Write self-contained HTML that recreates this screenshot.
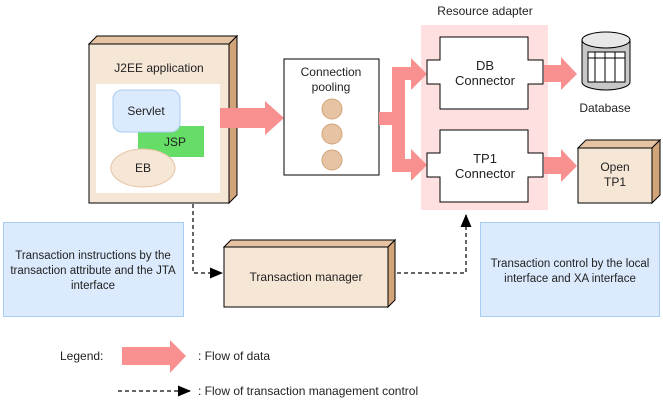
<!DOCTYPE html>
<html><head><meta charset="utf-8"><style>
html,body{margin:0;padding:0;background:#fff;}
svg{display:block;font-family:"Liberation Sans",Arial,sans-serif;}
</style></head><body>
<svg width="663" height="403" viewBox="0 0 663 403" xmlns="http://www.w3.org/2000/svg">
<defs>
<marker id="ah" markerWidth="13" markerHeight="11" refX="12" refY="5.5" orient="auto" markerUnits="userSpaceOnUse"><path d="M0,0 L13,5.5 L0,11 Z" fill="#000"/></marker>
</defs>
<polygon points="89,44 97,36 237,36 229,44" fill="#e6c3a3" stroke="#000"/>
<polygon points="229,44 237,36 237,195 229,203" fill="#d2a47a" stroke="#000"/>
<rect x="89" y="44" width="140" height="159" fill="#f5e6d6" stroke="#000"/>
<text x="159" y="72" font-size="12" text-anchor="middle" fill="#222">J2EE application</text>
<rect x="96" y="84" width="124" height="109" fill="#fff"/>
<rect x="138" y="126" width="66" height="31" fill="#66dd66"/>
<rect x="113" y="90" width="67" height="42" rx="9" fill="#dbeafc" stroke="#a9cdf2"/>
<text x="146" y="115" font-size="12" text-anchor="middle" fill="#222">Servlet</text>
<text x="175" y="146" font-size="12" text-anchor="middle" fill="#222">JSP</text>
<ellipse cx="143" cy="168" rx="32" ry="19" fill="#f5e6d6" stroke="#e6c3a3"/>
<text x="143" y="172" font-size="12" text-anchor="middle" fill="#222">EB</text>
<polygon points="220,108 265,108 265,101 284,118 265,135 265,128 220,128" fill="#f89090"/>
<rect x="284" y="59" width="95" height="116" fill="#fff" stroke="#000"/>
<text x="331" y="76" font-size="12" text-anchor="middle" fill="#222">Connection</text>
<text x="331" y="91" font-size="12" text-anchor="middle" fill="#222">pooling</text>
<circle cx="332" cy="109" r="10" fill="#e6c3a3" stroke="#d2a47a"/>
<circle cx="332" cy="134" r="10" fill="#e6c3a3" stroke="#d2a47a"/>
<circle cx="332" cy="160" r="10" fill="#e6c3a3" stroke="#d2a47a"/>
<rect x="421" y="25" width="127" height="185" fill="#ffe0e0"/>
<text x="485" y="15" font-size="12" text-anchor="middle" fill="#222">Resource adapter</text>
<polygon points="379,112 392,112 392,67 411,67 411,58 427,74 411,90 411,80 405,80 405,159 411,159 411,149 427,165 411,181 411,172 392,172 392,125 379,125" fill="#f89090"/>
<path d="M440,37 L528,37 L528,60 L543,60 L543,84 L528,84 L528,109 L440,109 L440,84 L427,84 L427,60 L440,60 Z" fill="#fff" stroke="#000"/>
<text x="485" y="70" font-size="13" text-anchor="middle" fill="#222">DB</text>
<text x="485" y="85" font-size="13" text-anchor="middle" fill="#222">Connector</text>
<path d="M440,130 L528,130 L528,153 L543,153 L543,177 L528,177 L528,202 L440,202 L440,177 L427,177 L427,153 L440,153 Z" fill="#fff" stroke="#000"/>
<text x="485" y="163" font-size="13" text-anchor="middle" fill="#222">TP1</text>
<text x="485" y="178" font-size="13" text-anchor="middle" fill="#222">Connector</text>
<polygon points="544,65 561,65 561,57 577,74 561,90 561,82 544,82" fill="#f89090"/>
<polygon points="544,157 561,157 561,149 577,166 561,182 561,174 544,174" fill="#f89090"/>
<path d="M582,40 L582,82 A24,8 0 0 0 630,82 L630,40" fill="#c8c8c8" stroke="#000"/>
<ellipse cx="606" cy="40" rx="24" ry="8" fill="#e8e8e8" stroke="#000"/>
<rect x="588" y="52" width="37" height="30" fill="#fff" stroke="#000"/>
<line x1="588" y1="58" x2="625" y2="58" stroke="#000"/>
<line x1="595" y1="52" x2="595" y2="82" stroke="#000"/>
<line x1="605" y1="52" x2="605" y2="82" stroke="#000"/>
<line x1="615" y1="52" x2="615" y2="82" stroke="#000"/>
<text x="605" y="112" font-size="12" text-anchor="middle" fill="#222">Database</text>
<polygon points="578,148 586,140 660,140 652,148" fill="#e6c3a3" stroke="#000"/>
<polygon points="652,148 660,140 660,195 652,203" fill="#d2a47a" stroke="#000"/>
<rect x="578" y="148" width="74" height="55" fill="#f5e6d6" stroke="#000"/>
<text x="615" y="171" font-size="12" text-anchor="middle" fill="#222">Open</text>
<text x="615" y="186" font-size="12" text-anchor="middle" fill="#222">TP1</text>
<rect x="3.5" y="222.5" width="180" height="94" fill="#dbeafc" stroke="#a9cdf2"/>
<text x="93" y="259" font-size="11.5" text-anchor="middle" fill="#222">Transaction instructions by the</text>
<text x="93" y="274" font-size="11.5" text-anchor="middle" fill="#222">transaction attribute and the JTA</text>
<text x="93" y="289" font-size="11.5" text-anchor="middle" fill="#222">interface</text>
<rect x="480.5" y="222.5" width="179" height="94" fill="#dbeafc" stroke="#a9cdf2"/>
<text x="570" y="267" font-size="11.5" text-anchor="middle" fill="#222">Transaction control by the local</text>
<text x="570" y="282" font-size="11.5" text-anchor="middle" fill="#222">interface and XA interface</text>
<polygon points="224,247 231,240 395,240 388,247" fill="#e6c3a3" stroke="#000"/>
<polygon points="388,247 395,240 395,300 388,307" fill="#d2a47a" stroke="#000"/>
<rect x="224" y="247" width="164" height="60" fill="#f5e6d6" stroke="#000"/>
<text x="306" y="281" font-size="12" text-anchor="middle" fill="#222">Transaction manager</text>
<polyline points="193,204 193,273 222,273" fill="none" stroke="#333" stroke-width="1.5" stroke-dasharray="4,3" marker-end="url(#ah)"/>
<polyline points="397,273 466,273 466,215" fill="none" stroke="#333" stroke-width="1.5" stroke-dasharray="4,3" marker-end="url(#ah)"/>
<text x="60" y="360" font-size="12" fill="#222">Legend:</text>
<polygon points="122,347 170,347 170,340 186,356 170,373 170,365 122,365" fill="#f89090"/>
<text x="198" y="360" font-size="12" fill="#222">: Flow of data</text>
<line x1="118" y1="391" x2="190" y2="391" stroke="#333" stroke-width="1.5" stroke-dasharray="4,3" marker-end="url(#ah)"/>
<text x="198" y="395" font-size="12" fill="#222">: Flow of transaction management control</text>
</svg>
</body></html>
